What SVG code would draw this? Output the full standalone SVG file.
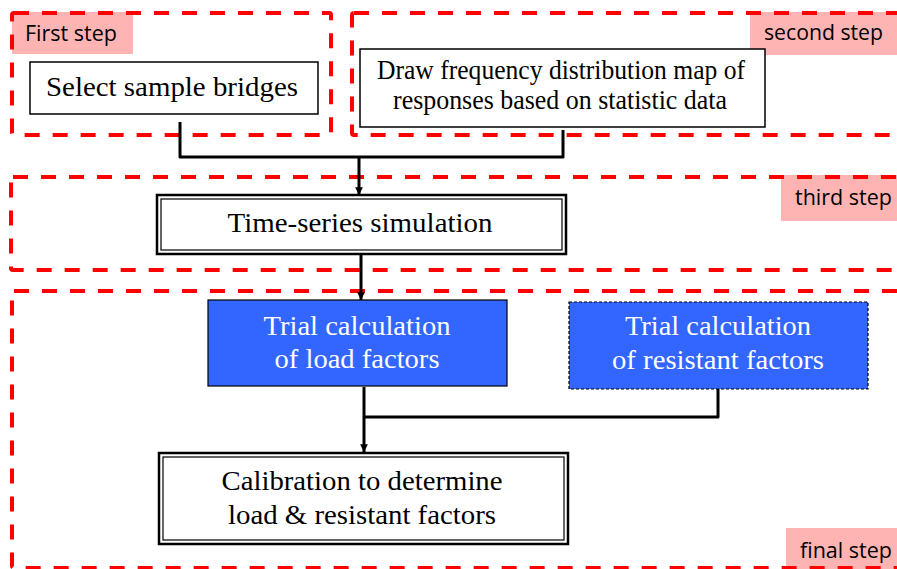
<svg xmlns="http://www.w3.org/2000/svg" width="897" height="569" viewBox="0 0 897 569">
  <defs>
    <style>
      .tag { fill: #ffb4b4; }
      .tagtxt { font-family: "Open Sans", "Noto Sans", sans-serif; font-size: 21px; fill: #000; }
      .zone { fill: none; stroke: #ff0000; stroke-width: 4; stroke-dasharray: 15 13; }
      .box { fill: #fff; stroke: #000; stroke-width: 1.5; }
      .dbl-out { fill: #fff; stroke: #000; stroke-width: 2.5; }
      .dbl-in { fill: none; stroke: #000; stroke-width: 1.2; }
      .blue { fill: #3366ff; stroke: #000; stroke-width: 1.2; }
      .blue-dash { fill: #3366ff; stroke: #000; stroke-width: 1.2; stroke-dasharray: 3 2; }
      .t { font-family: "Liberation Serif", "Times New Roman", serif; font-size: 28px; fill: #000; text-anchor: middle; }
      .tw { font-family: "Liberation Serif", "Times New Roman", serif; font-size: 27px; fill: #fff; text-anchor: middle; }
      .wire { fill: none; stroke: #000; stroke-width: 3; stroke-linejoin: round; }
    </style>
    <marker id="arrow" viewBox="0 0 10 10" refX="10" refY="5" markerWidth="2.6" markerHeight="2.6" orient="auto" markerUnits="strokeWidth">
      <path d="M0,0 L10,5 L0,10 Z" fill="#000"/>
    </marker>
  </defs>

  <!-- step labels (drawn under the dashed zones) -->
  <g id="labels">
    <rect class="tag" x="12" y="12" width="121" height="42"/>
    <text class="tagtxt" x="25" y="41" textLength="92" lengthAdjust="spacingAndGlyphs">First step</text>
    <rect class="tag" x="750" y="12" width="147" height="43"/>
    <text class="tagtxt" x="764" y="40" textLength="119" lengthAdjust="spacingAndGlyphs">second step</text>
    <rect class="tag" x="781" y="175" width="116" height="46"/>
    <text class="tagtxt" x="795" y="205" textLength="97" lengthAdjust="spacingAndGlyphs">third step</text>
    <rect class="tag" x="786" y="528" width="111" height="41"/>
    <text class="tagtxt" x="800" y="558" textLength="92" lengthAdjust="spacingAndGlyphs">final step</text>
  </g>

  <!-- dashed step zones -->
  <g id="zones">
    <rect class="zone" x="12" y="13" width="319" height="122" rx="2"/>
    <rect class="zone" x="352" y="13" width="560" height="122" rx="2"/>
    <rect class="zone" x="11" y="177" width="900" height="93" rx="2"/>
    <rect class="zone" x="12" y="291" width="900" height="277" rx="2"/>
  </g>

  <!-- connectors -->
  <g id="connectors">
    <polyline class="wire" points="180,122 180,157 563,157 563,130"/>
    <line class="wire" x1="359" y1="157" x2="359" y2="195" marker-end="url(#arrow)"/>
    <line class="wire" x1="361" y1="254" x2="361" y2="300" marker-end="url(#arrow)"/>
    <polyline class="wire" points="718,389 718,417 364,417"/>
    <line class="wire" x1="364" y1="387" x2="364" y2="452" marker-end="url(#arrow)"/>
  </g>

  <g id="select-bridges">
    <rect class="box" x="30" y="62" width="288" height="52"/>
    <text class="t" x="172" y="96" textLength="252" lengthAdjust="spacingAndGlyphs">Select sample bridges</text>
  </g>

  <g id="frequency-map">
    <rect class="box" x="360" y="49" width="405" height="78"/>
    <text class="t" x="561" y="79" font-size="25" textLength="368" lengthAdjust="spacingAndGlyphs">Draw frequency distribution map of</text>
    <text class="t" x="560" y="109" font-size="25" textLength="334" lengthAdjust="spacingAndGlyphs">responses based on statistic data</text>
  </g>

  <g id="time-series">
    <rect class="dbl-out" x="157" y="195" width="409" height="59"/>
    <rect class="dbl-in" x="161" y="199" width="401" height="51"/>
    <text class="t" x="360" y="232" textLength="265" lengthAdjust="spacingAndGlyphs">Time-series simulation</text>
  </g>

  <g id="load-factors">
    <rect class="blue" x="208" y="300" width="299" height="86"/>
    <text class="tw" x="357" y="335" textLength="187" lengthAdjust="spacingAndGlyphs">Trial calculation</text>
    <text class="tw" x="357" y="368" textLength="165" lengthAdjust="spacingAndGlyphs">of load factors</text>
  </g>

  <g id="resistant-factors">
    <rect class="blue-dash" x="569" y="302" width="299" height="87"/>
    <text class="tw" x="718" y="335" textLength="186" lengthAdjust="spacingAndGlyphs">Trial calculation</text>
    <text class="tw" x="718" y="369" textLength="212" lengthAdjust="spacingAndGlyphs">of resistant factors</text>
  </g>

  <g id="calibration">
    <rect class="dbl-out" x="159" y="453" width="409" height="91"/>
    <rect class="dbl-in" x="163" y="457" width="401" height="83"/>
    <text class="t" x="362" y="490" textLength="281" lengthAdjust="spacingAndGlyphs">Calibration to determine</text>
    <text class="t" x="362" y="524" textLength="268" lengthAdjust="spacingAndGlyphs">load &amp; resistant factors</text>
  </g>
</svg>
